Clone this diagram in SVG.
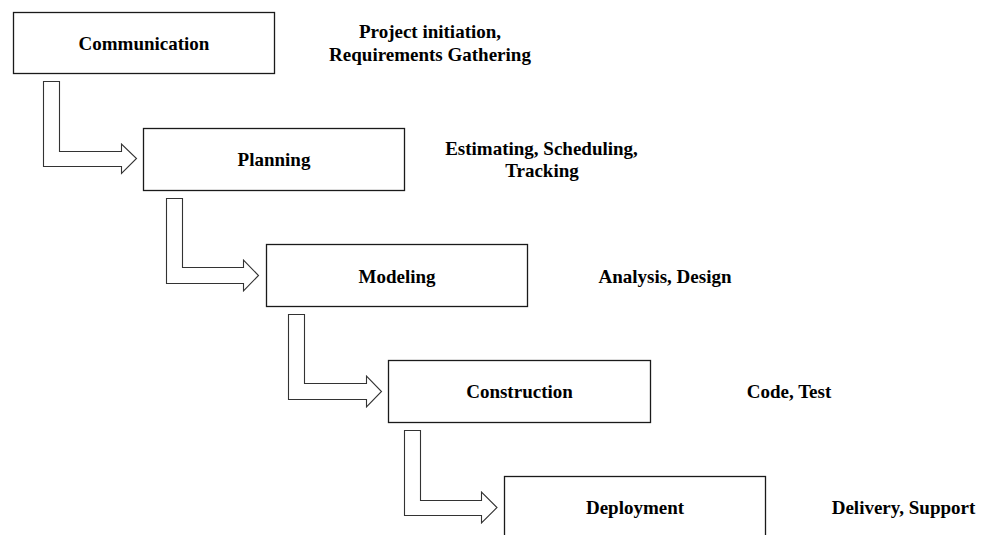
<svg xmlns="http://www.w3.org/2000/svg" width="988" height="535" viewBox="0 0 988 535">
  <style>
    .box { fill: #ffffff; stroke: #1a1a1a; stroke-width: 1.3; }
    .flow { fill: #ffffff; stroke: #333333; stroke-width: 1.1; stroke-linejoin: miter; }
    .label { font-family: "Liberation Serif", "Times New Roman", serif; font-weight: bold; font-size: 19px; fill: #000000; text-anchor: middle; }
  </style>
  <rect width="988" height="535" fill="#ffffff"/>

  <!-- bent block arrows between the phases -->
  <g id="connectors">
    <path class="flow" d="M43.5,81.5 H59.5 V151.5 H121.5 V144 L136.5,158.5 L121.5,173.5 V166.5 H43.5 Z"/>
    <path class="flow" d="M166.5,198.5 H182.5 V267.5 H243.5 V260 L258.5,275.5 L243.5,291 V283.5 H166.5 Z"/>
    <path class="flow" d="M288.5,314.5 H304.5 V383.5 H366.5 V376 L381.5,391.5 L366.5,407 V399.5 H288.5 Z"/>
    <path class="flow" d="M404.5,430.5 H420.5 V500.5 H481.5 V492 L497,507.5 L481.5,523 V515.5 H404.5 Z"/>
  </g>

  <g id="communication">
    <rect class="box" x="13.5" y="12.5" width="261" height="61"/>
    <text class="label" x="144" y="49.5">Communication</text>
    <text class="label" x="430" y="38">Project initiation,</text>
    <text class="label" x="430" y="61">Requirements Gathering</text>
  </g>

  <g id="planning">
    <rect class="box" x="143.5" y="128.5" width="261" height="62"/>
    <text class="label" x="274" y="166">Planning</text>
    <text class="label" x="541.5" y="155">Estimating, Scheduling,</text>
    <text class="label" x="542" y="177">Tracking</text>
  </g>

  <g id="modeling">
    <rect class="box" x="266.5" y="244.5" width="261" height="62"/>
    <text class="label" x="397" y="282.5">Modeling</text>
    <text class="label" x="665" y="282.5">Analysis, Design</text>
  </g>

  <g id="construction">
    <rect class="box" x="388.5" y="360.5" width="262" height="62"/>
    <text class="label" x="519.5" y="398">Construction</text>
    <text class="label" x="789" y="398">Code, Test</text>
  </g>

  <g id="deployment">
    <rect class="box" x="504.5" y="476.5" width="261" height="70"/>
    <text class="label" x="635" y="514">Deployment</text>
    <text class="label" x="903.5" y="514">Delivery, Support</text>
  </g>
</svg>
